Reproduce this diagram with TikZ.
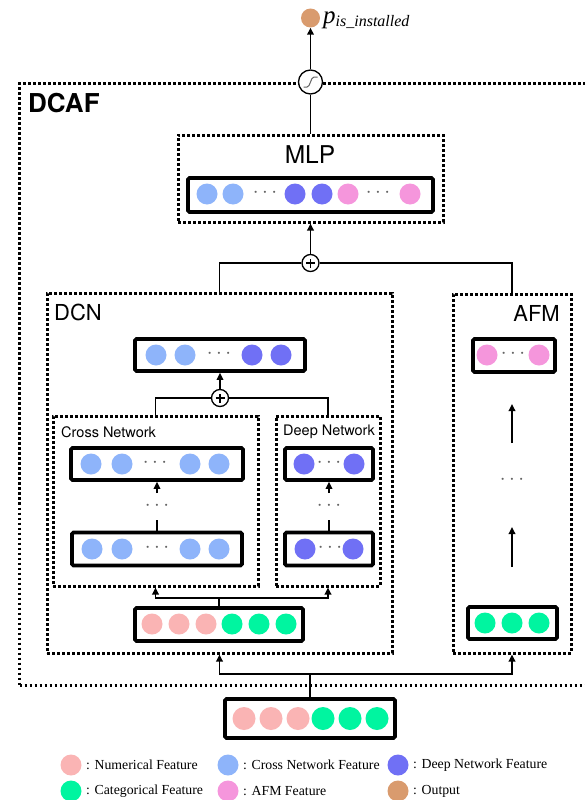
\documentclass[tikz,border=0pt]{standalone}
\usepackage{fontspec}
\setmainfont{Liberation Serif}
\newfontfamily\hv{TeX Gyre Heros}
\usetikzlibrary{arrows.meta}
\definecolor{numc}{RGB}{250,180,180}
\definecolor{catc}{RGB}{0,245,160}
\definecolor{crossc}{RGB}{142,180,250}
\definecolor{deepc}{RGB}{112,112,245}
\definecolor{afmc}{RGB}{245,150,220}
\definecolor{outc}{RGB}{217,155,110}
\definecolor{ellc}{RGB}{100,100,100}
\begin{document}
\begin{tikzpicture}[x=1pt,y=-1pt,
  cont/.style={draw, line width=3pt, dash pattern=on 2.6pt off 2.4pt, inner sep=0, anchor=center},
  vec/.style={draw, line width=3.6pt, rounded corners=1.5pt, fill=white, inner sep=0},
  feat/.style={circle, inner sep=0, minimum size=21pt},
  conn/.style={line width=1.7pt},
  arr/.style={conn, -{Triangle[length=7pt,width=6.5pt]}},
  op/.style={circle, draw, line width=1.3pt, minimum size=17pt, inner sep=0, fill=white},
  ell/.style={inner sep=0, text=ellc, font=\fontsize{20}{20}\selectfont},
  title/.style={inner sep=0, font=\hv\fontsize{22}{22}\selectfont},
  sub/.style={inner sep=0, font=\hv\fontsize{14.5}{14.5}\selectfont},
  legend/.style={inner sep=0, anchor=west, font=\fontsize{13.8}{13.8}\selectfont}
]
\useasboundingbox (0,0) rectangle (584,800);

% ---------- containers ----------
\node[cont, minimum width=582pt, minimum height=602pt, anchor=north west] (dcaf) at (18,82) {};
\node[anchor=west, inner sep=0, font=\hv\bfseries\fontsize{26}{26}\selectfont] (dcafl) at (28,103) {DCAF};

\node[cont, minimum width=265pt, minimum height=87pt] (mlp) at (310.5,178.5) {};
\node[title, font=\hv\fontsize{24.5}{24.5}\selectfont] (mlpl) at (310,155) {MLP};

\node[cont, minimum width=345pt, minimum height=360pt] (dcn) at (219.5,473) {};
\node[title, anchor=west] (dcnl) at (54,312) {DCN};

\node[cont, minimum width=118pt, minimum height=359pt] (afm) at (512,473.5) {};
\node[title, anchor=east] (afml) at (560,313) {AFM};

\node[cont, minimum width=205pt, minimum height=170pt] (cross) at (155.5,501) {};
\node[sub, anchor=west] (crossl) at (61,432) {Cross Network};

\node[cont, minimum width=104pt, minimum height=170pt] (deep) at (328,501) {};
\node[sub, anchor=west] (deepl) at (283,432) {Deep Network};

% ---------- vectors ----------
% MLP
\node[vec, minimum width=245pt, minimum height=34pt] (mlpv) at (310.5,195) {};
\foreach \x in {207,233} \node[feat, fill=crossc] at (\x,194) {};
\foreach \x in {295,322} \node[feat, fill=deepc] at (\x,194) {};
\foreach \x in {348,410} \node[feat, fill=afmc] at (\x,194) {};
\node[ell] (e1) at (265,193) {$\cdots$};
\node[ell] (e2) at (378,193) {$\cdots$};

% DCN top
\node[vec, minimum width=170pt, minimum height=32pt] (dcnv) at (220,355) {};
\foreach \x in {156,185} \node[feat, fill=crossc] at (\x,355) {};
\foreach \x in {252,281} \node[feat, fill=deepc] at (\x,355) {};
\node[ell] (e3) at (219,354) {$\cdots$};

% Cross network
\node[vec, minimum width=172pt, minimum height=32pt] (crosst) at (157,464) {};
\foreach \x in {91,122,190,219} \node[feat, fill=crossc] at (\x,464) {};
\node[ell] (e4) at (155,463) {$\cdots$};
\node[vec, minimum width=170pt, minimum height=33pt] (crossb) at (157,549) {};
\foreach \x in {92,122,190,219} \node[feat, fill=crossc] at (\x,549) {};
\node[ell] (e5) at (157,548) {$\cdots$};
\node[ell] (e6) at (157,506) {$\cdots$};

% Deep network
\node[vec, minimum width=88pt, minimum height=32pt] (deept) at (329,464) {};
\foreach \x in {304,354} \node[feat, fill=deepc] at (\x,464) {};
\node[ell] (e7) at (329,463) {$\cdots$};
\node[vec, minimum width=88pt, minimum height=33pt] (deepb) at (329,549) {};
\foreach \x in {305,353} \node[feat, fill=deepc] at (\x,549) {};
\node[ell] (e8) at (330,548) {$\cdots$};
\node[ell] (e9) at (329,506) {$\cdots$};

% DCN input
\node[vec, minimum width=168pt, minimum height=33pt] (dcnin) at (219,624.5) {};
\foreach \x in {152,179,206} \node[feat, fill=numc] at (\x,624) {};
\foreach \x in {232,259,286} \node[feat, fill=catc] at (\x,624) {};

% AFM
\node[vec, minimum width=82pt, minimum height=33pt] (afmt) at (514,355.5) {};
\foreach \x in {487,539} \node[feat, fill=afmc] at (\x,355) {};
\node[ell] (e10) at (513,354) {$\cdots$};
\node[ell] (e11) at (512,480) {$\cdots$};
\node[vec, minimum width=89pt, minimum height=32pt] (afmb) at (512.5,623) {};
\foreach \x in {485,512,539} \node[feat, fill=catc] at (\x,623) {};

% Input
\node[vec, minimum width=170pt, minimum height=39pt] (in) at (310,718.5) {};
\foreach \x in {244,271,298} \node[feat, fill=numc, minimum size=23pt] at (\x,718.5) {};
\foreach \x in {323,350,377} \node[feat, fill=catc, minimum size=23pt] at (\x,718.5) {};

% ---------- operators & output ----------
\node[op, minimum size=24pt] (sig) at (310.5,82) {};
\draw[line width=1pt, ellc] ([shift={(-7,5)}]sig.center) -- ([shift={(-3.5,5)}]sig.center)
  .. controls ([shift={(0,5)}]sig.center) and ([shift={(0,-5)}]sig.center) .. ([shift={(3.5,-5)}]sig.center)
  -- ([shift={(7,-5)}]sig.center);
\node[feat, fill=outc, minimum size=19pt] (out) at (310.5,18) {};
\node[anchor=base west, inner sep=0] (outl) at (323,24)
  {\fontsize{25}{25}\selectfont\itshape p\raisebox{-2pt}{\fontsize{16}{16}\selectfont is\_installed}};

\node[op] (plus1) at (310.5,263) {};
\draw[line width=1.2pt] ([xshift=-4.5pt]plus1.center) -- ([xshift=4.5pt]plus1.center)
  ([yshift=-4.5pt]plus1.center) -- ([yshift=4.5pt]plus1.center);
\node[op] (plus2) at (220,398) {};
\draw[line width=1.2pt] ([xshift=-4.5pt]plus2.center) -- ([xshift=4.5pt]plus2.center)
  ([yshift=-4.5pt]plus2.center) -- ([yshift=4.5pt]plus2.center);

% ---------- connectors ----------
\draw[arr] (sig.north) -- (out.south);
\draw[conn] (mlp.north) -- (sig.south);
\draw[arr] (plus1.north) -- (mlp.south);
\draw[conn] (plus1.west) -| (dcn.north);
\draw[conn] (plus1.east) -| (afm.north);
\draw[arr] (plus2.north) -- (dcnv.south);
\draw[conn] (plus2.west) -| (cross.north);
\draw[conn] (plus2.east) -| (deep.north);

\coordinate (cb1) at (157,520);
\coordinate (cb2) at (157,493);
\draw[conn] (crossb.north) -- (cb1);
\draw[arr] (cb2) -- (crosst.south);
\coordinate (db1) at (329,520);
\coordinate (db2) at (329,493);
\draw[conn] (deepb.north) -- (db1);
\draw[arr] (db2) -- (deept.south);

\coordinate (j2) at (219,598);
\draw[conn] (dcnin.north) -- (j2);
\draw[arr] (j2) -| (cross.south);
\draw[arr] (j2) -| (deep.south);

\coordinate (a1) at (512,443);
\coordinate (a2) at (512,404);
\coordinate (a3) at (512,567);
\coordinate (a4) at (512,527);
\draw[arr] (a1) -- (a2);
\draw[arr] (a3) -- (a4);

\coordinate (j1) at (310,674);
\draw[conn] (in.north) -- (j1);
\draw[arr] (j1) -| (dcn.south);
\draw[arr] (j1) -| (afm.south);

% ---------- legend ----------
\node[feat, fill=numc, minimum size=21pt] (l1) at (71,765) {};
\node[legend] (t1) at (86,765) {: Numerical Feature};
\node[feat, fill=crossc, minimum size=21pt] (l2) at (228,765) {};
\node[legend] (t2) at (243,765) {: Cross Network Feature};
\node[feat, fill=deepc, minimum size=21pt] (l3) at (398,765) {};
\node[legend] (t3) at (413,765) {: Deep Network Feature};
\node[feat, fill=catc, minimum size=21pt] (l4) at (71,791) {};
\node[legend] (t4) at (86,791) {: Categorical Feature};
\node[feat, fill=afmc, minimum size=21pt] (l5) at (228,791) {};
\node[legend] (t5) at (243,791) {: AFM Feature};
\node[feat, fill=outc, minimum size=21pt] (l6) at (398,791) {};
\node[legend] (t6) at (413,791) {: Output};
\end{tikzpicture}
\end{document}
